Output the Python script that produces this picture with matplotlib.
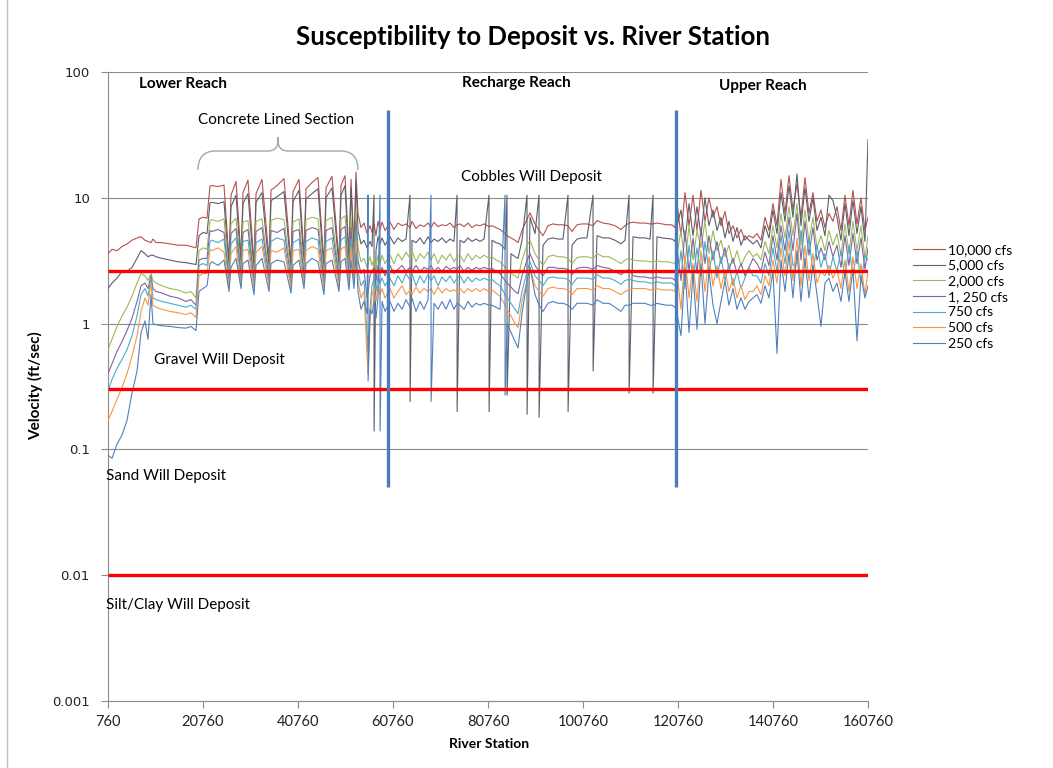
import matplotlib
matplotlib.use("Agg")
import matplotlib.pyplot as plt
from matplotlib.path import Path
from matplotlib.patches import PathPatch
from matplotlib.lines import Line2D
from matplotlib.ticker import FixedLocator, NullLocator, FixedFormatter

# ---------------------------------------------------------------- data
# River stations (ft): lower reach, concrete lined section, transition,
# recharge reach, upper reach
station = (
    [760, 1600, 2650, 3710, 4760, 5810, 6870, 7710, 8550, 9180, 9810, 10230,
     10870, 12130, 13810, 15500, 17180, 18230, 19290, 19920, 20760, 21600, 22230]
    + [22650, 23920, 25180, 26230, 26660, 27710, 28760, 29180, 30230, 31500,
       31920, 33180, 34660, 35080, 36340, 37810, 39290, 39710, 40970, 42020,
       42440, 43710, 44970, 46230, 46660, 47920, 49390, 49810, 50660, 51500,
       51920, 52550, 52970]
    + [53390, 54020, 54660, 55290, 55500, 55520, 55920, 56340, 56760, 56780,
       57180, 57600, 58020, 58040, 58450, 59080]
    + [60130, 60970, 61810, 62660, 63500, 64340, 64360, 64760, 65600, 66450,
       67290, 68130, 68760, 68780, 69390, 70240, 71080, 71920, 72760, 73600,
       74240, 74260, 74870, 75710, 76550, 77390, 78240, 79080, 79920, 80970,
       80990, 81600, 82450, 83290, 84340, 84360, 84760, 84780, 85600, 86450,
       87080, 87920, 88970, 88990, 89600, 90660, 91500, 91520, 92340, 93390,
       94450, 95500, 96550, 97600, 97620, 98450, 99500, 100550, 101600, 102870,
       102890, 103710, 104970, 106240, 107500, 108760, 109600, 110450, 110470, 111290,
       112550, 113810, 114870, 115500, 115520, 116340, 117390, 118450, 119500, 120130]
    + [120550, 121390, 122230, 123080, 123920, 124760, 125600, 126440, 127280, 128130,
       128970, 129810, 130650, 131490, 132340, 133180, 134020, 134860, 135700, 136550,
       137390, 138230, 139070, 139910, 140750, 141600, 142440, 143280, 144120, 144960,
       145810, 146650, 147490, 148330, 149170, 150020, 150860, 151700, 152540, 153380,
       154230, 155070, 155910, 156750, 157590, 158440, 159280, 160120, 160760]
)

# Velocity (ft/sec) for each flow rate
q10000 = (
    [3.6, 3.9, 3.8, 4.1, 4.3, 4.6, 4.8, 4.9, 4.6, 4.5, 4.4, 4.7, 4.4, 4.4, 4.3,
     4.2, 4.2, 4.1, 4.0, 6.8, 7.0, 6.9, 12.4]
    + [12.5, 12.3, 12.6, 3.2, 10.5, 13.5, 3.4, 11.0, 13.8, 3.0, 10.8, 14.0, 3.3,
       11.5, 12.5, 14.2, 3.1, 11.2, 14.0, 3.5, 11.8, 13.2, 14.5, 3.0, 12.0, 14.8,
       3.2, 12.5, 15.0, 3.4, 14.0, 4.0, 16.0]
    + [7.5, 5.8, 6.3, 5.2, 5.5, 5.5, 6.0, 5.3, 6.2, 6.2, 5.0, 6.5, 5.6, 5.6, 6.4, 5.5]
    + [6.4, 5.6, 6.3, 6.0, 6.2, 5.8, 5.8, 6.5, 5.7, 6.1,
       5.9, 6.3, 5.8, 5.8, 6.4, 5.9, 6.1, 6.0, 6.3, 5.8,
       6.1, 6.1, 6.2, 5.9, 6.3, 5.8, 6.1, 6.0, 6.2, 5.9,
       5.9, 6.0, 5.8, 5.6, 5.2, 5.2, 5.0, 5.0, 4.8, 4.6,
       4.4, 5.5, 6.8, 6.8, 7.6, 6.2, 5.5, 5.5, 5.0, 6.0,
       6.2, 6.1, 6.1, 6.0, 6.0, 5.4, 6.1, 6.2, 6.2, 6.0,
       6.0, 6.6, 6.3, 6.2, 6.0, 5.6, 6.0, 6.3, 6.3, 6.4,
       6.3, 6.3, 6.2, 6.2, 6.2, 6.3, 6.2, 6.1, 6.1, 5.8]
    + [9.0, 5.0, 11.0, 6.0, 10.5, 5.5, 11.5, 6.5, 10.0, 7.0,
       8.5, 6.0, 7.8, 5.2, 6.0, 4.8, 5.6, 4.6, 5.0, 4.8,
       5.2, 4.6, 7.0, 5.5, 9.0, 6.0, 14.0, 7.5, 15.0, 8.0,
       13.0, 7.0, 14.5, 7.5, 11.0, 6.5, 8.0, 5.8, 7.5, 6.5,
       8.5, 5.5, 10.5, 6.0, 11.5, 6.2, 10.0, 5.5, 7.0]
)
q5000 = (
    [1.9, 2.1, 2.3, 2.6, 2.6, 2.8, 3.3, 3.8, 3.6, 3.4, 3.5, 3.5, 3.4, 3.3, 3.2,
     3.1, 3.05, 3.0, 2.95, 5.0, 5.3, 5.2, 9.1]
    + [9.2, 9.0, 9.3, 2.7, 8.5, 10.5, 2.9, 9.0, 10.8, 2.6, 9.2, 11.0, 2.8,
       9.5, 10.2, 11.2, 2.7, 9.3, 11.5, 3.0, 9.8, 10.8, 11.8, 2.6, 10.0, 12.0,
       2.8, 10.5, 12.5, 2.9, 12.0, 3.4, 13.5]
    + [5.5, 4.3, 4.6, 4.0, 4.2, 4.2, 4.5, 4.1, 10.5, 0.14, 3.8, 4.9, 4.3, 4.3, 4.8, 4.2]
    + [4.9, 4.3, 4.8, 4.5, 4.7, 10.5, 0.24, 4.6, 4.4, 4.8,
       4.3, 4.9, 4.4, 4.4, 4.7, 4.5, 4.8, 4.4, 4.7, 4.5,
       10.5, 0.20, 4.6, 4.4, 4.8, 4.5, 4.7, 4.5, 4.7, 10.5,
       0.20, 4.6, 4.4, 4.3, 3.9, 3.9, 10.5, 0.27, 3.6, 3.4,
       3.3, 4.6, 10.5, 0.19, 7.0, 5.2, 10.5, 0.18, 4.2, 4.7,
       4.8, 4.7, 4.7, 10.5, 0.20, 4.2, 4.7, 4.8, 4.8, 10.5,
       0.42, 5.0, 4.8, 4.8, 4.6, 4.3, 4.6, 10.5, 0.28, 4.9,
       4.8, 4.8, 4.7, 10.5, 0.28, 4.9, 4.8, 4.75, 4.7, 4.5]
    + [6.0, 8.0, 4.5, 9.0, 5.0, 8.5, 5.0, 10.0, 6.0, 8.0,
       5.5, 7.0, 4.8, 6.5, 4.5, 5.8, 4.2, 5.0, 4.6, 4.3,
       4.6, 4.0, 6.0, 4.8, 8.0, 5.2, 11.0, 6.5, 12.5, 7.0,
       15.5, 6.0, 12.0, 6.5, 10.0, 5.5, 7.0, 5.0, 10.5, 9.5,
       7.0, 4.6, 9.0, 5.0, 9.5, 5.2, 8.5, 4.5, 29.0]
)
q2000 = (
    [0.62, 0.75, 0.95, 1.15, 1.35, 1.65, 2.1, 2.5, 2.4, 2.2, 2.5, 2.2, 2.1, 2.0,
     1.9, 1.85, 1.75, 1.8, 1.6, 3.8, 4.0, 3.9, 6.6]
    + [6.7, 6.5, 6.8, 2.5, 6.2, 6.9, 2.6, 6.4, 6.6, 2.4, 6.5, 6.8, 2.5,
       6.6, 6.9, 6.7, 2.5, 6.4, 6.8, 2.7, 6.7, 7.0, 6.8, 2.4, 6.6, 7.0,
       2.5, 6.8, 7.2, 2.6, 7.0, 3.0, 8.0]
    + [4.0, 3.1, 3.3, 2.8, 3.0, 3.0, 3.4, 2.9, 3.3, 3.3, 2.7, 3.5, 3.0, 3.0, 3.5, 3.0]
    + [3.5, 3.0, 3.6, 3.2, 3.7, 3.3, 3.3, 3.8, 3.1, 3.6,
       3.3, 3.7, 3.2, 3.2, 3.6, 3.0, 3.5, 3.2, 3.6, 3.1,
       3.4, 3.4, 3.5, 3.1, 3.6, 3.2, 3.5, 3.3, 3.5, 3.3,
       3.3, 3.4, 3.2, 3.1, 2.8, 2.8, 2.7, 2.7, 2.5, 2.4,
       2.3, 3.2, 4.2, 4.2, 4.6, 3.6, 3.2, 3.2, 2.9, 3.4,
       3.5, 3.4, 3.4, 3.3, 3.3, 3.0, 3.35, 3.4, 3.4, 3.3,
       3.3, 3.6, 3.4, 3.4, 3.2, 3.0, 3.2, 3.3, 3.3, 3.2,
       3.15, 3.15, 3.1, 3.1, 3.1, 3.15, 3.1, 3.1, 3.05, 3.0]
    + [3.5, 5.5, 3.0, 6.0, 3.2, 5.5, 4.0, 6.5, 3.6, 5.5,
       3.8, 4.6, 3.4, 4.2, 3.0, 3.8, 2.9, 3.4, 3.8, 3.4,
       3.6, 3.2, 4.5, 3.6, 6.0, 4.0, 7.5, 4.8, 8.5, 5.0,
       9.0, 4.2, 8.0, 4.5, 7.0, 4.0, 5.0, 3.8, 5.5, 4.2,
       5.2, 3.5, 6.2, 3.6, 6.5, 3.8, 6.0, 3.3, 5.0]
)
q1250 = (
    [0.40, 0.48, 0.60, 0.72, 0.88, 1.10, 1.5, 2.0, 2.1, 1.9, 2.4, 1.9, 1.8, 1.75,
     1.65, 1.6, 1.5, 1.55, 1.4, 3.2, 3.3, 3.3, 5.5]
    + [5.4, 5.6, 5.3, 2.3, 5.2, 5.7, 2.4, 5.3, 5.6, 2.2, 5.4, 5.8, 2.3,
       5.5, 5.3, 5.7, 2.2, 5.4, 5.6, 2.4, 5.5, 5.8, 5.6, 2.2, 5.5, 5.8,
       2.3, 5.6, 5.9, 2.4, 5.8, 2.6, 6.5]
    + [3.2, 2.5, 2.7, 1.6, 1.8, 1.8, 2.4, 2.6, 2.8, 2.8, 2.2, 2.9, 2.5, 2.5, 2.8, 2.4]
    + [2.9, 2.5, 2.7, 2.9, 2.6, 2.8, 2.8, 2.6, 2.9, 2.6,
       2.8, 2.7, 2.9, 2.9, 2.6, 2.8, 2.6, 2.85, 2.7, 2.8,
       2.7, 2.7, 2.9, 2.6, 2.8, 2.65, 2.8, 2.7, 2.8, 2.7,
       2.7, 2.75, 2.6, 2.5, 2.2, 2.2, 2.1, 2.1, 1.95, 1.8,
       1.73, 2.4, 3.2, 3.2, 3.6, 2.9, 2.6, 2.6, 2.4, 2.8,
       2.8, 2.75, 2.75, 2.7, 2.7, 2.45, 2.75, 2.8, 2.8, 2.7,
       2.7, 2.9, 2.8, 2.75, 2.6, 2.45, 2.6, 2.7, 2.7, 2.4,
       2.35, 2.35, 2.3, 2.3, 2.3, 2.35, 2.3, 2.3, 2.3, 2.2]
    + [4.0, 2.2, 5.5, 2.6, 4.8, 2.5, 5.8, 3.0, 5.0, 3.2,
       4.5, 3.0, 4.0, 2.7, 3.3, 2.5, 3.0, 2.4, 2.8, 3.3,
       3.0, 2.6, 3.7, 2.9, 5.0, 3.2, 6.0, 3.8, 7.0, 3.8,
       7.5, 3.2, 6.5, 3.5, 5.8, 3.2, 4.0, 3.2, 4.5, 3.4,
       4.2, 2.8, 5.0, 2.9, 5.2, 3.0, 4.8, 2.7, 4.0]
)
q750 = (
    [0.29, 0.36, 0.44, 0.52, 0.62, 0.80, 1.15, 1.7, 1.9, 1.65, 2.3, 1.6, 1.55, 1.5,
     1.45, 1.4, 1.35, 1.4, 1.3, 2.9, 3.0, 2.9, 4.5]
    + [4.6, 4.4, 4.7, 2.1, 4.3, 4.8, 2.2, 4.5, 4.6, 2.0, 4.4, 4.7, 2.1,
       4.5, 4.8, 4.6, 2.0, 4.4, 4.7, 2.2, 4.5, 4.8, 4.6, 2.0, 4.5, 4.8,
       2.1, 4.6, 4.9, 2.2, 4.7, 2.3, 5.5]
    + [2.6, 2.0, 2.2, 0.8, 0.7, 0.6, 1.3, 2.0, 2.3, 2.3, 1.8, 2.4, 2.1, 2.1, 2.3, 2.0]
    + [2.3, 2.0, 2.4, 2.1, 2.5, 2.2, 2.2, 2.5, 2.0, 2.4,
       2.1, 2.45, 2.2, 2.2, 2.4, 2.0, 2.35, 2.15, 2.4, 2.1,
       2.3, 2.3, 2.4, 2.1, 2.35, 2.15, 2.3, 2.2, 2.3, 2.2,
       2.2, 2.25, 2.1, 2.0, 1.7, 1.7, 1.6, 1.6, 1.45, 1.3,
       1.2, 1.8, 2.6, 2.6, 3.1, 2.4, 2.2, 2.2, 2.0, 2.3,
       2.35, 2.3, 2.3, 2.25, 2.25, 2.05, 2.3, 2.3, 2.3, 2.25,
       2.25, 2.45, 2.3, 2.3, 2.2, 2.05, 2.2, 2.25, 2.25, 2.2,
       2.15, 2.15, 2.1, 2.1, 2.1, 2.15, 2.1, 2.1, 2.1, 2.0]
    + [2.0, 3.8, 1.9, 4.2, 2.2, 4.0, 2.4, 4.5, 2.6, 3.8,
       2.3, 3.4, 2.2, 3.0, 2.0, 2.6, 1.9, 2.3, 2.8, 2.4,
       2.4, 2.1, 3.0, 2.4, 4.0, 2.6, 5.0, 3.0, 5.5, 2.9,
       3.0, 5.5, 2.8, 4.8, 2.6, 4.2, 2.8, 3.6, 2.4, 3.4,
       2.6, 3.8, 2.3, 4.2, 2.4, 3.8, 2.1, 3.5, 3.2]
)
q500 = (
    [0.17, 0.20, 0.25, 0.31, 0.40, 0.55, 0.80, 1.25, 1.6, 1.4, 2.1, 1.4, 1.35, 1.3,
     1.25, 1.22, 1.18, 1.22, 1.12, 2.4, 2.5, 2.5, 3.9]
    + [3.8, 4.0, 3.7, 1.9, 3.6, 4.1, 2.0, 3.8, 3.9, 1.9, 3.7, 4.1, 2.0,
       3.8, 3.7, 4.0, 1.9, 3.8, 3.9, 2.0, 3.8, 4.1, 3.9, 1.85, 3.8, 4.0,
       1.95, 3.9, 4.1, 2.0, 4.0, 2.1, 4.6]
    + [2.2, 1.6, 1.8, 0.55, 0.45, 0.4, 1.0, 1.7, 1.9, 1.9, 1.5, 2.0, 1.7, 1.7, 1.9, 1.6]
    + [1.9, 1.6, 1.8, 2.0, 1.7, 1.85, 1.85, 1.7, 1.95, 1.75,
       1.9, 1.8, 1.9, 1.9, 1.7, 1.95, 1.75, 1.9, 1.8, 1.85,
       1.8, 1.8, 1.9, 1.75, 1.9, 1.8, 1.9, 1.8, 1.9, 1.8,
       1.8, 1.85, 1.75, 1.65, 1.4, 1.4, 1.3, 1.3, 1.15, 1.0,
       0.93, 1.5, 2.2, 2.2, 2.8, 2.0, 1.8, 1.8, 1.65, 1.9,
       1.95, 1.9, 1.9, 1.85, 1.85, 1.7, 1.9, 1.9, 1.9, 1.85,
       1.85, 2.0, 1.9, 1.9, 1.8, 1.7, 1.8, 1.85, 1.85, 1.9,
       1.9, 1.9, 1.85, 1.85, 1.85, 1.9, 1.85, 1.85, 1.85, 1.8]
    + [2.5, 1.3, 3.5, 1.6, 3.0, 1.5, 3.8, 1.8, 3.4, 2.0,
       2.9, 1.9, 2.7, 1.8, 2.3, 1.6, 2.0, 1.55, 1.8, 1.8,
       2.0, 1.7, 2.4, 2.0, 3.2, 2.1, 4.0, 2.4, 4.5, 2.2,
       4.8, 2.0, 4.2, 2.2, 3.6, 2.1, 2.6, 2.4, 2.9, 2.3,
       2.7, 1.9, 3.2, 1.8, 3.4, 1.9, 3.0, 1.7, 2.6]
)
q250 = (
    [0.090, 0.085, 0.11, 0.13, 0.17, 0.28, 0.42, 0.85, 1.05, 0.75, 1.7, 1.0, 0.98,
     0.96, 0.95, 0.93, 0.92, 0.95, 0.88, 1.8, 1.9, 2.0, 3.0]
    + [3.1, 2.9, 3.2, 1.8, 2.8, 3.3, 1.9, 3.0, 3.2, 1.7, 2.9, 3.3, 1.8,
       3.0, 3.2, 3.1, 1.75, 2.9, 3.2, 1.9, 3.0, 3.3, 3.1, 1.7, 3.0, 3.2,
       1.8, 3.1, 3.3, 1.85, 3.2, 1.9, 3.6]
    + [1.8, 1.3, 1.5, 1.2, 10.5, 0.35, 1.3, 1.2, 1.5, 1.5, 1.1, 1.6, 10.5, 0.14, 1.5, 1.25]
    + [1.5, 1.25, 1.45, 1.3, 1.55, 1.35, 1.35, 1.6, 1.25, 1.5,
       1.3, 1.55, 10.5, 0.24, 1.45, 1.3, 1.5, 1.3, 1.55, 1.3,
       1.45, 1.45, 1.4, 1.3, 1.5, 1.35, 1.45, 1.4, 1.45, 1.4,
       1.4, 1.4, 1.35, 1.3, 10.5, 0.27, 1.0, 1.0, 0.85, 0.72,
       0.64, 1.2, 2.2, 2.2, 2.8, 1.7, 1.4, 1.4, 1.25, 1.45,
       1.5, 1.45, 1.45, 1.4, 1.4, 1.3, 1.45, 1.45, 1.45, 1.4,
       1.4, 1.55, 1.45, 1.45, 1.35, 1.25, 1.4, 1.4, 1.4, 1.45,
       1.45, 1.45, 1.4, 1.4, 1.4, 1.45, 1.42, 1.4, 1.4, 1.35]
    + [1.2, 0.8, 2.8, 0.85, 2.5, 0.9, 3.0, 1.0, 2.6, 1.4,
       1.0, 1.5, 2.2, 1.4, 1.9, 1.3, 1.6, 1.3, 1.5, 1.6,
       1.7, 1.45, 2.0, 1.6, 2.6, 0.58, 3.2, 1.8, 3.6, 1.6,
       3.8, 1.5, 3.3, 1.6, 2.9, 1.7, 0.95, 2.1, 2.3, 1.8,
       2.1, 1.5, 2.6, 1.5, 2.7, 0.73, 2.4, 1.6, 2.0]
)

flow_labels = ["10,000 cfs", "5,000 cfs", "2,000 cfs", "1, 250 cfs",
               "750 cfs", "500 cfs", "250 cfs"]
flow_values = [q10000, q5000, q2000, q1250, q750, q500, q250]
flow_colors = ["#B9504D", "#5B5F6E", "#9BBB59", "#8064A2",
               "#4BACC6", "#F79646", "#4F81BD"]

# Deposition thresholds (ft/sec) and reach boundaries (river station)
thresholds = [2.6, 0.3, 0.01]
reach_bounds = [59710, 120340]
bound_span = [0.05, 50]

x_ticks = [760, 20760, 40760, 60760, 80760, 100760, 120760, 140760, 160760]
y_ticks = [0.001, 0.01, 0.1, 1, 10, 100]
y_tick_labels = ["0.001", "0.01", "0.1", "1", "10", "100"]

for vals in flow_values:
    assert len(vals) == len(station)

# ---------------------------------------------------------------- figure
plt.rcParams["font.family"] = ["Lato", "DejaVu Sans"]
W, H = 1053, 768
fig = plt.figure(figsize=(W / 100, H / 100), dpi=100)
fig.patch.set_facecolor("white")


def fx(px):
    return px / W


def fy(py):
    return 1 - py / H


ax = fig.add_axes([fx(108), fy(701), fx(868) - fx(108), fy(72) - fy(701)])
ax.set_yscale("log")
ax.set_xlim(x_ticks[0], x_ticks[-1])
ax.set_ylim(y_ticks[0], y_ticks[-1])

grid_col = "#8C8C8C"
ax.yaxis.set_major_locator(FixedLocator(y_ticks))
ax.yaxis.set_major_formatter(FixedFormatter(y_tick_labels))
ax.yaxis.set_minor_locator(NullLocator())
ax.xaxis.set_major_locator(FixedLocator(x_ticks))
ax.xaxis.set_minor_locator(NullLocator())
ax.yaxis.grid(True, color=grid_col, lw=0.8, zorder=0)
ax.set_axisbelow(True)
for side in ("top", "right"):
    ax.spines[side].set_visible(False)
for side in ("left", "bottom"):
    ax.spines[side].set_color(grid_col)
    ax.spines[side].set_linewidth(0.8)
ax.tick_params(axis="both", direction="out", length=5, width=0.8, color=grid_col)
ax.tick_params(axis="x", pad=5, labelsize=10.5, labelcolor="#222222")
ax.tick_params(axis="y", pad=8, labelsize=9.5, labelcolor="#222222")
for lbl in ax.get_yticklabels():
    lbl.set_family("DejaVu Sans")

for vals, lab, col in zip(flow_values, flow_labels, flow_colors):
    ax.plot(station, vals, color=col, lw=0.8, label=lab, zorder=3)

for t in thresholds:
    ax.plot([x_ticks[0], x_ticks[-1]], [t, t], color="#FF0000", lw=2.4,
            zorder=5, solid_capstyle="butt")
for b in reach_bounds:
    ax.plot([b, b], bound_span, color="#4A7EBB", lw=2.4, zorder=5,
            solid_capstyle="butt")

# ---------------------------------------------------------------- text
fig.text(fx(533), fy(37), "Susceptibility to Deposit vs. River Station",
         ha="center", va="center", fontsize=18.5, fontweight="bold")
fig.text(fx(36), fy(386), "Velocity (ft/sec)", rotation=90, ha="center",
         va="center", fontsize=11, fontweight="bold")
fig.text(fx(489), fy(744), "River Station", ha="center", va="center",
         fontsize=10, fontweight="bold")

for label, x, y in [("Lower Reach", 183, 84), ("Recharge Reach", 516, 83),
                    ("Upper Reach", 763, 86)]:
    fig.text(fx(x), fy(y), label, ha="center", va="center", fontsize=11,
             fontweight="bold")

fig.text(fx(276), fy(120), "Concrete Lined Section", ha="center", va="center",
         fontsize=11)
fig.text(fx(531), fy(177), "Cobbles Will Deposit", ha="center", va="center",
         fontsize=11)
fig.text(fx(154), fy(360), "Gravel Will Deposit", ha="left", va="center",
         fontsize=11)
fig.text(fx(106), fy(476), "Sand Will Deposit", ha="left", va="center",
         fontsize=11)
fig.text(fx(106), fy(605), "Silt/Clay Will Deposit", ha="left", va="center",
         fontsize=11)

# curly brace over the concrete lined section
brace_px = [(198, 170), (198, 152), (214, 151), (268, 151),
            (278, 151), (278, 141), (278, 137),
            (278, 141), (278, 151), (288, 151),
            (342, 151), (358, 152), (358, 170)]
codes = [Path.MOVETO, Path.CURVE3, Path.CURVE3, Path.LINETO,
         Path.CURVE3, Path.CURVE3, Path.LINETO,
         Path.LINETO, Path.CURVE3, Path.CURVE3,
         Path.LINETO, Path.CURVE3, Path.CURVE3]
brace = Path([(fx(x), fy(y)) for x, y in brace_px], codes)
fig.patches.append(PathPatch(brace, transform=fig.transFigure, fill=False,
                             edgecolor="#A6A6A6", lw=1.0))

# chart area edge
fig.add_artist(Line2D([fx(6.5), fx(6.5)], [0, 1], color="#BFBFBF", lw=1.0))

# legend
ax.legend(loc="upper left", bbox_to_anchor=(fx(913), fy(244)),
          bbox_transform=fig.transFigure, frameon=False, fontsize=10,
          handlelength=2.3, handletextpad=0.25, labelspacing=0.26,
          borderaxespad=0, borderpad=0)

fig.savefig("out.png", dpi=100, facecolor="white")
